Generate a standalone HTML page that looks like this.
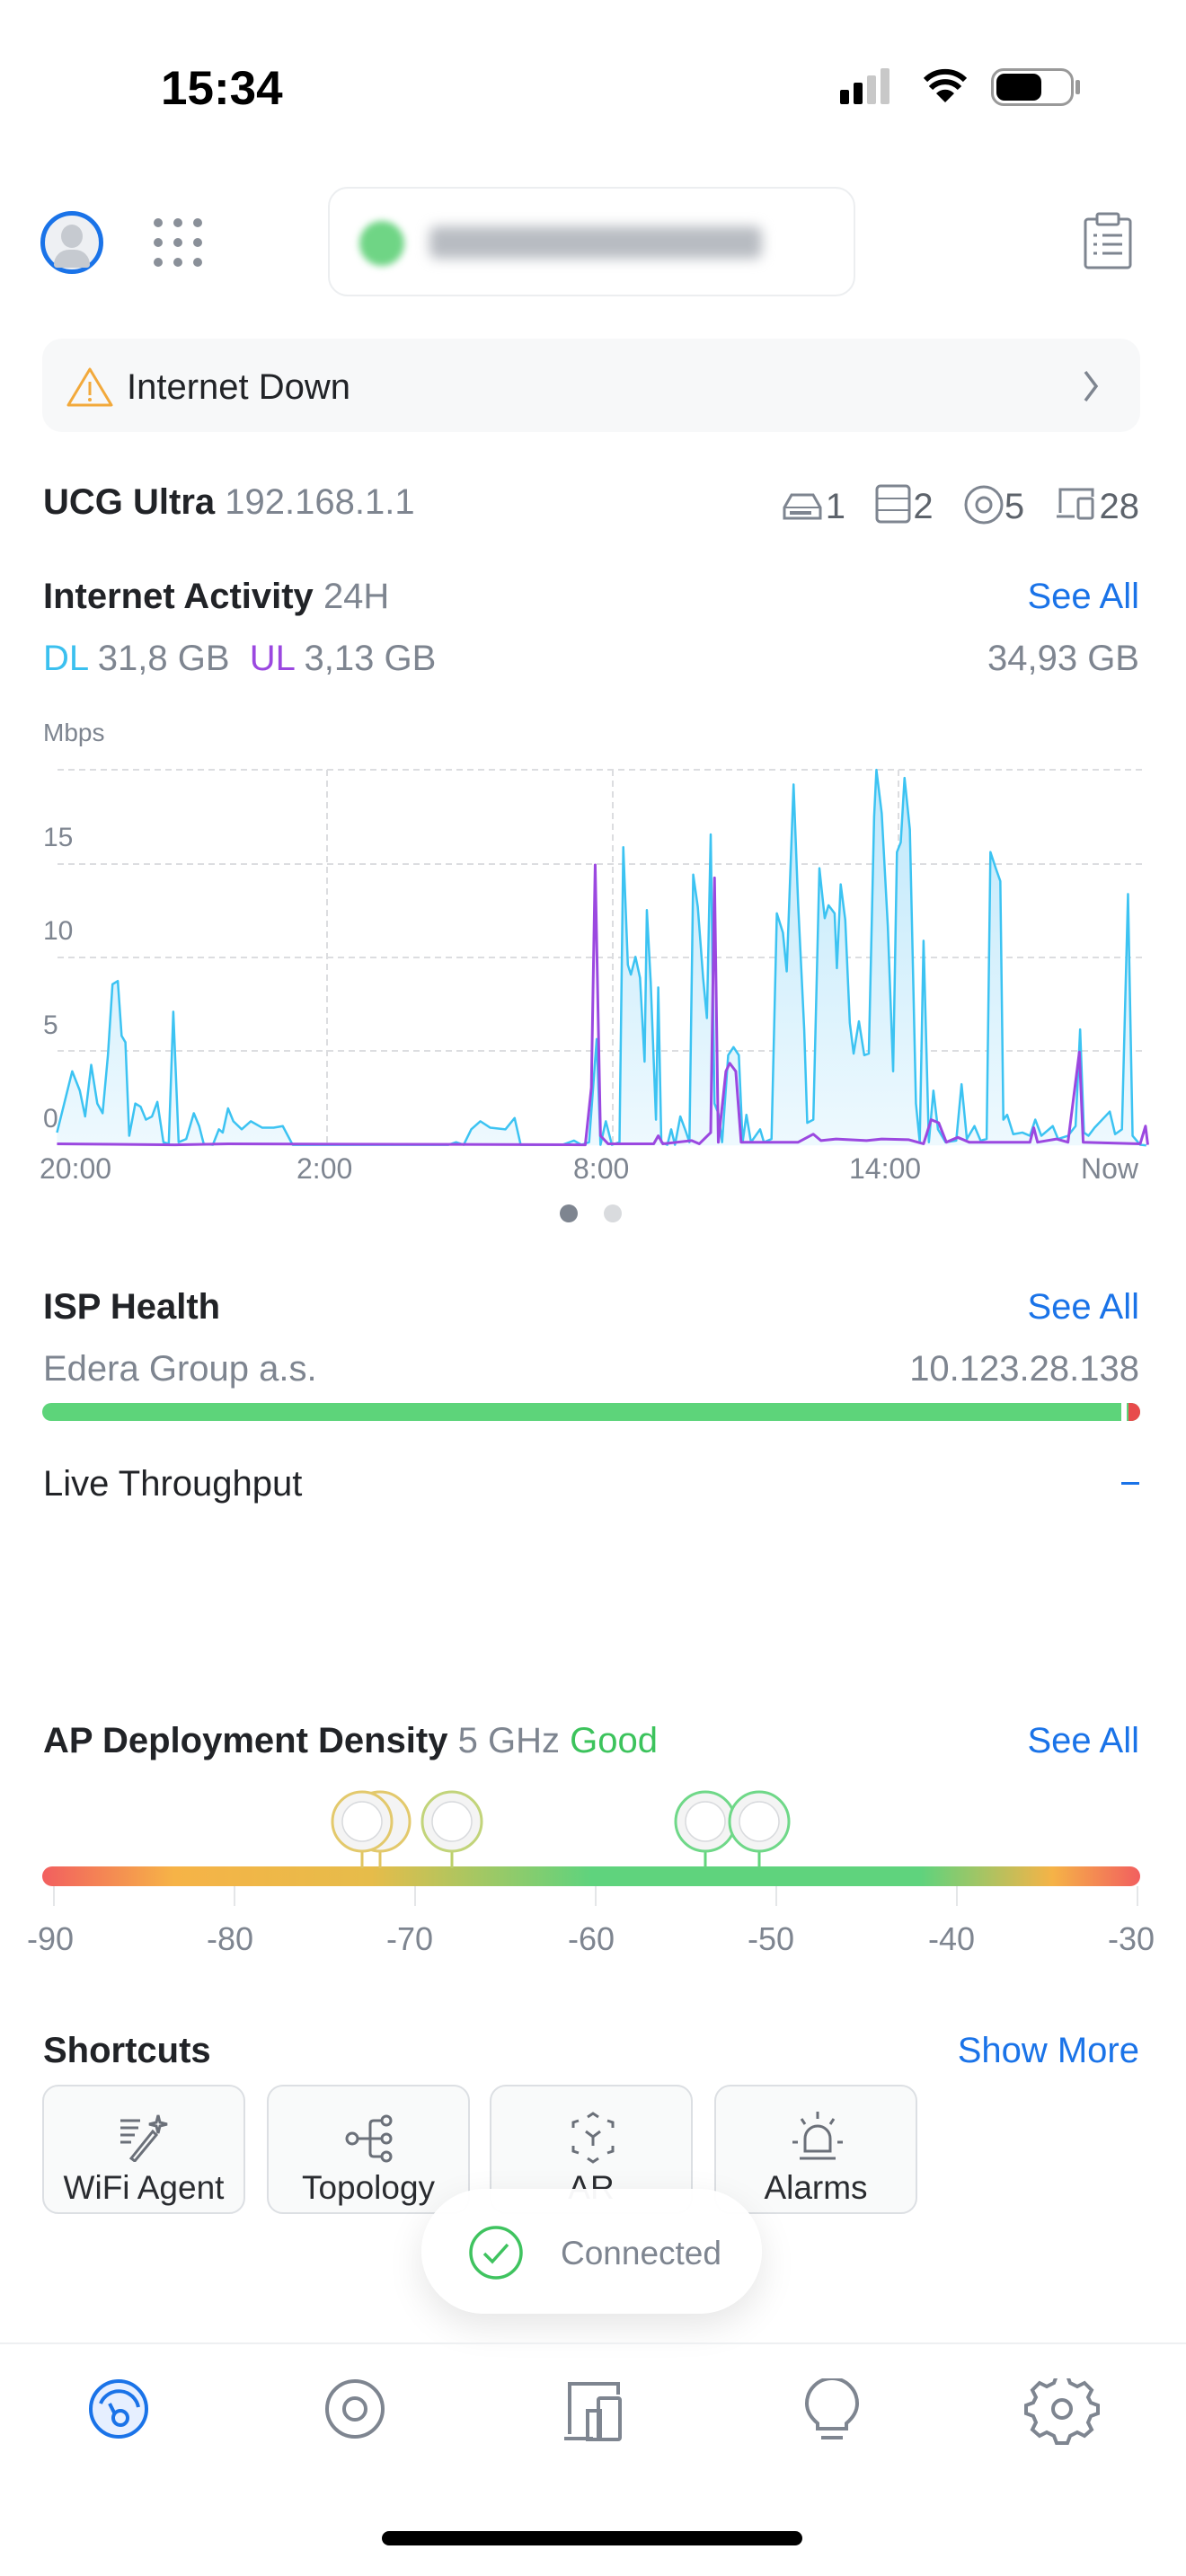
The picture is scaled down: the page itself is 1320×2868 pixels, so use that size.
<!DOCTYPE html>
<html><head><meta charset="utf-8"><style>
*{margin:0;padding:0;box-sizing:border-box}
body{width:1320px;height:2868px;background:#fff;position:relative;overflow:hidden;font-family:"Liberation Sans",sans-serif;color:#212327}
.a{position:absolute;white-space:nowrap}
.t{font-size:40px;line-height:1}
.b{font-weight:bold}
.g{color:#7e8590}
.bl{color:#1a73e8}
.sc{position:absolute;top:2321px;width:226px;height:144px;border:2px solid #dcdfe3;border-radius:18px;background:#f9fafa}
.sc span{position:absolute;bottom:6px;left:0;right:0;text-align:center;font-size:37px;color:#2a2c30}
</style></head><body>
<div class="a b" style="left:179px;top:68px;font-size:53px;color:#000">15:34</div>
<div class="a" style="left:935px;top:100px;width:10px;height:16px;background:#000;border-radius:2px"></div>
<div class="a" style="left:950px;top:92px;width:10px;height:24px;background:#000;border-radius:2px"></div>
<div class="a" style="left:965px;top:84px;width:10px;height:32px;background:#c8c8c8;border-radius:2px"></div>
<div class="a" style="left:980px;top:76px;width:10px;height:40px;background:#c8c8c8;border-radius:2px"></div>
<svg class="a" style="left:1028px;top:76px" width="48" height="40" viewBox="0 0 48 40"><path d="M24 38 L14 28 A14 14 0 0 1 34 28 Z" fill="#000"/><path d="M8 22 A22 22 0 0 1 40 22" stroke="#000" stroke-width="6" fill="none"/><path d="M2 13 A31 31 0 0 1 46 13" stroke="#000" stroke-width="6" fill="none"/></svg>
<div class="a" style="left:1103px;top:76px;width:92px;height:42px;border:3px solid #999;border-radius:14px"></div>
<div class="a" style="left:1109px;top:82px;width:50px;height:30px;background:#000;border-radius:9px"></div>
<div class="a" style="left:1197px;top:89px;width:5px;height:16px;background:#999;border-radius:2px"></div>
<div class="a" style="left:45px;top:235px;width:70px;height:70px;border:5px solid #1a73e8;border-radius:50%;background:#eef0f3"></div>
<div class="a" style="left:68px;top:250px;width:24px;height:26px;background:#c6cad0;border-radius:50%"></div>
<div class="a" style="left:60px;top:278px;width:40px;height:20px;background:#c6cad0;border-radius:20px 20px 4px 4px"></div>
<svg class="a" style="left:168px;top:240px" width="60" height="60"><g fill="#8a9099"><circle cx="8" cy="8" r="5"/><circle cx="30" cy="8" r="5"/><circle cx="52" cy="8" r="5"/><circle cx="8" cy="30" r="5"/><circle cx="30" cy="30" r="5"/><circle cx="52" cy="30" r="5"/><circle cx="8" cy="52" r="5"/><circle cx="30" cy="52" r="5"/><circle cx="52" cy="52" r="5"/></g></svg>
<div class="a" style="left:365px;top:208px;width:587px;height:122px;border:2px solid #eceef0;border-radius:22px"></div>
<div class="a" style="left:400px;top:246px;width:50px;height:50px;border-radius:50%;background:#6fd585;filter:blur(4px)"></div>
<div class="a" style="left:478px;top:252px;width:370px;height:36px;background:#b8bcc2;border-radius:8px;filter:blur(7px)"></div>
<svg class="a" style="left:1205px;top:236px" width="56" height="64"><rect x="3" y="8" width="50" height="54" rx="3" fill="none" stroke="#7e8590" stroke-width="3"/><rect x="16" y="2" width="24" height="12" rx="2" fill="#fff" stroke="#7e8590" stroke-width="3"/><g stroke="#7e8590" stroke-width="3"><line x1="12" y1="26" x2="16" y2="26"/><line x1="22" y1="26" x2="44" y2="26"/><line x1="12" y1="36" x2="16" y2="36"/><line x1="22" y1="36" x2="44" y2="36"/><line x1="12" y1="46" x2="16" y2="46"/><line x1="22" y1="46" x2="44" y2="46"/></g></svg>
<div class="a" style="left:47px;top:377px;width:1222px;height:104px;background:#f7f8f9;border-radius:22px"></div>
<svg class="a" style="left:73px;top:408px" width="54" height="46"><path d="M27 3 L51 43 L3 43 Z" fill="none" stroke="#f2a93b" stroke-width="3" stroke-linejoin="round"/><line x1="27" y1="17" x2="27" y2="32" stroke="#f2a93b" stroke-width="3"/><circle cx="27" cy="37" r="2" fill="#f2a93b"/></svg>
<div class="a t" style="left:141px;top:411px">Internet Down</div>
<svg class="a" style="left:1202px;top:408px" width="24" height="44"><path d="M6 6 L18 22 L6 38" stroke="#7e8590" stroke-width="3.5" fill="none"/></svg>
<div class="a t" style="left:48px;top:539px"><span class="b">UCG Ultra</span> <span class="g">192.168.1.1</span></div>
<div class="a t g" style="right:52px;top:539px;color:#5d636b"><svg width="48" height="36" style="vertical-align:-4px"><path d="M10 6 H34 L42 20 V32 H2 V20 Z" fill="none" stroke="#7e8590" stroke-width="3"/><line x1="2" y1="20" x2="42" y2="20" stroke="#7e8590" stroke-width="2"/><rect x="8" y="24" width="24" height="4" fill="#7e8590"/></svg>1 &nbsp;&nbsp;<svg width="42" height="44" style="vertical-align:-6px"><rect x="2" y="2" width="36" height="40" rx="4" fill="none" stroke="#7e8590" stroke-width="3"/><line x1="2" y1="16" x2="38" y2="16" stroke="#7e8590" stroke-width="2"/><line x1="2" y1="29" x2="38" y2="29" stroke="#7e8590" stroke-width="2"/></svg>2 &nbsp;&nbsp;<svg width="46" height="46" style="vertical-align:-8px"><circle cx="23" cy="23" r="20" fill="none" stroke="#7e8590" stroke-width="3"/><circle cx="23" cy="23" r="8" fill="none" stroke="#7e8590" stroke-width="3"/></svg>5 &nbsp;&nbsp;<svg width="50" height="40" style="vertical-align:-4px"><path d="M6 30 V4 H42 V12" fill="none" stroke="#7e8590" stroke-width="3"/><path d="M2 34 H22" stroke="#7e8590" stroke-width="3"/><rect x="26" y="14" width="16" height="22" rx="2" fill="none" stroke="#7e8590" stroke-width="3"/></svg>28</div>
<div class="a t" style="left:48px;top:644px"><span class="b">Internet Activity</span> <span class="g">24H</span></div>
<div class="a t bl" style="right:52px;top:644px">See All</div>
<div class="a t g" style="left:48px;top:713px"><span style="color:#3bc0ef">DL</span> 31,8 GB &nbsp;<span style="color:#9b48e0">UL</span> 3,13 GB</div>
<div class="a t g" style="right:52px;top:713px">34,93 GB</div>
<div class="a g" style="left:48px;top:800px;font-size:28px">Mbps</div>
<div class="a g" style="left:48px;top:916px;font-size:30px">15</div>
<div class="a g" style="left:48px;top:1020px;font-size:30px">10</div>
<div class="a g" style="left:48px;top:1125px;font-size:30px">5</div>
<div class="a g" style="left:48px;top:1229px;font-size:30px">0</div>
<svg class="a" style="left:0;top:0" width="1320" height="1400">
<defs><linearGradient id="fg" x1="0" y1="0" x2="0" y2="1"><stop offset="0" stop-color="#bfe8fb"/><stop offset="1" stop-color="#eef9fe"/></linearGradient></defs>
<g stroke="#dcdde0" stroke-width="2" stroke-dasharray="7 5">
<line x1="64" y1="857" x2="1276" y2="857"/><line x1="64" y1="962" x2="1276" y2="962"/><line x1="64" y1="1066" x2="1276" y2="1066"/><line x1="64" y1="1170" x2="1276" y2="1170"/>
<line x1="364" y1="857" x2="364" y2="1275"/><line x1="682" y1="857" x2="682" y2="1275"/><line x1="1000" y1="857" x2="1000" y2="1275"/>
</g>
<g transform="translate(0,780) scale(0.846,0.3589)">
<path d="M75,1340 L95,1150 L105,1210 L112,1290 L120,1130 L128,1250 L135,1280 L142,1100 L148,880 L155,870 L160,1040 L165,1060 L170,1350 L178,1250 L185,1260 L192,1300 L200,1290 L207,1245 L215,1370 L222,1375 L228,965 L235,1370 L245,1360 L255,1280 L262,1320 L268,1375 L280,1378 L288,1330 L293,1340 L300,1265 L307,1305 L318,1330 L330,1305 L345,1325 L360,1325 L372,1320 L385,1378 L590,1378 L600,1370 L610,1378 L620,1330 L632,1305 L645,1325 L665,1330 L677,1295 L685,1378 L740,1378 L755,1365 L765,1378 L775,1370 L785,1050 L790,1378 L797,1305 L805,1378 L815,1370 L820,455 L826,820 L830,850 L836,795 L842,860 L848,1120 L851,650 L856,870 L863,1300 L866,890 L870,1370 L878,1378 L883,1330 L888,1378 L895,1290 L902,1335 L907,1370 L912,540 L918,640 L925,860 L930,985 L935,415 L940,1250 L945,1280 L950,1370 L958,1100 L965,1075 L972,1100 L977,1370 L982,1285 L988,1370 L1000,1330 L1005,1370 L1015,1360 L1022,660 L1030,720 L1035,840 L1044,260 L1050,630 L1058,1020 L1062,1310 L1070,1300 L1078,520 L1085,675 L1090,635 L1098,660 L1101,830 L1106,570 L1112,680 L1118,1000 L1123,1095 L1130,995 L1137,1100 L1143,1095 L1150,360 L1153,215 L1160,350 L1168,700 L1175,1150 L1180,470 L1185,440 L1190,240 L1197,400 L1205,1250 L1210,1370 L1215,745 L1222,1370 L1228,1210 L1234,1330 L1244,1370 L1258,1365 L1265,1190 L1272,1360 L1282,1320 L1290,1365 L1298,1360 L1303,470 L1310,520 L1316,560 L1320,1300 L1325,1285 L1333,1345 L1345,1340 L1355,1350 L1362,1300 L1370,1350 L1385,1320 L1392,1360 L1405,1350 L1415,1320 L1421,1020 L1426,1340 L1432,1350 L1440,1325 L1450,1300 L1460,1275 L1467,1345 L1476,1330 L1484,600 L1490,1350 L1500,1378 L1508,1380 L75,1380 Z" fill="url(#fg)" stroke="none"/>
<path d="M75,1340 L95,1150 L105,1210 L112,1290 L120,1130 L128,1250 L135,1280 L142,1100 L148,880 L155,870 L160,1040 L165,1060 L170,1350 L178,1250 L185,1260 L192,1300 L200,1290 L207,1245 L215,1370 L222,1375 L228,965 L235,1370 L245,1360 L255,1280 L262,1320 L268,1375 L280,1378 L288,1330 L293,1340 L300,1265 L307,1305 L318,1330 L330,1305 L345,1325 L360,1325 L372,1320 L385,1378 L590,1378 L600,1370 L610,1378 L620,1330 L632,1305 L645,1325 L665,1330 L677,1295 L685,1378 L740,1378 L755,1365 L765,1378 L775,1370 L785,1050 L790,1378 L797,1305 L805,1378 L815,1370 L820,455 L826,820 L830,850 L836,795 L842,860 L848,1120 L851,650 L856,870 L863,1300 L866,890 L870,1370 L878,1378 L883,1330 L888,1378 L895,1290 L902,1335 L907,1370 L912,540 L918,640 L925,860 L930,985 L935,415 L940,1250 L945,1280 L950,1370 L958,1100 L965,1075 L972,1100 L977,1370 L982,1285 L988,1370 L1000,1330 L1005,1370 L1015,1360 L1022,660 L1030,720 L1035,840 L1044,260 L1050,630 L1058,1020 L1062,1310 L1070,1300 L1078,520 L1085,675 L1090,635 L1098,660 L1101,830 L1106,570 L1112,680 L1118,1000 L1123,1095 L1130,995 L1137,1100 L1143,1095 L1150,360 L1153,215 L1160,350 L1168,700 L1175,1150 L1180,470 L1185,440 L1190,240 L1197,400 L1205,1250 L1210,1370 L1215,745 L1222,1370 L1228,1210 L1234,1330 L1244,1370 L1258,1365 L1265,1190 L1272,1360 L1282,1320 L1290,1365 L1298,1360 L1303,470 L1310,520 L1316,560 L1320,1300 L1325,1285 L1333,1345 L1345,1340 L1355,1350 L1362,1300 L1370,1350 L1385,1320 L1392,1360 L1405,1350 L1415,1320 L1421,1020 L1426,1340 L1432,1350 L1440,1325 L1450,1300 L1460,1275 L1467,1345 L1476,1330 L1484,600 L1490,1350 L1500,1378 L1508,1380" fill="none" stroke="#3cc3f2" stroke-width="2.5" vector-effect="non-scaling-stroke" stroke-linejoin="round"/>
<path d="M75,1375 L230,1378 L300,1375 L770,1378 L778,1200 L783,510 L790,1350 L800,1375 L860,1375 L866,1350 L872,1375 L910,1365 L920,1375 L935,1340 L940,550 L945,1370 L955,1150 L960,1125 L968,1150 L975,1370 L1050,1370 L1070,1345 L1080,1365 L1100,1360 L1140,1365 L1160,1360 L1195,1362 L1215,1375 L1225,1300 L1235,1310 L1245,1370 L1260,1355 L1275,1370 L1355,1370 L1360,1325 L1365,1370 L1390,1360 L1405,1370 L1420,1090 L1425,1370 L1500,1375 L1507,1320 L1510,1378" fill="none" stroke="#9b48e0" stroke-width="3" vector-effect="non-scaling-stroke" stroke-linejoin="round"/>
</g></svg>
<div class="a g" style="left:44px;top:1283px;font-size:32px">20:00</div>
<div class="a g" style="left:330px;top:1283px;font-size:32px">2:00</div>
<div class="a g" style="left:638px;top:1283px;font-size:32px">8:00</div>
<div class="a g" style="left:945px;top:1283px;font-size:32px">14:00</div>
<div class="a g" style="left:1203px;top:1283px;font-size:32px">Now</div>
<div class="a" style="left:623px;top:1341px;width:20px;height:20px;border-radius:50%;background:#7e8590"></div>
<div class="a" style="left:672px;top:1341px;width:20px;height:20px;border-radius:50%;background:#d9dbde"></div>
<div class="a t b" style="left:48px;top:1435px">ISP Health</div>
<div class="a t bl" style="right:52px;top:1435px">See All</div>
<div class="a t g" style="left:48px;top:1504px">Edera Group a.s.</div>
<div class="a t g" style="right:52px;top:1504px">10.123.28.138</div>
<div class="a" style="left:47px;top:1562px;width:1222px;height:20px;background:#5dd47a;border-radius:10px"></div>
<div class="a" style="left:1248px;top:1562px;width:6px;height:20px;background:#fff"></div>
<div class="a" style="left:1256px;top:1562px;width:13px;height:20px;background:#e84b4b;border-radius:0 10px 10px 0"></div>
<div class="a t" style="left:48px;top:1632px">Live Throughput</div>
<div class="a" style="left:1248px;top:1650px;width:20px;height:3px;background:#1a73e8"></div>
<div class="a t" style="left:48px;top:1918px"><span class="b">AP Deployment Density</span> <span class="g">5 GHz</span> <span style="color:#3cc35c">Good</span></div>
<div class="a t bl" style="right:52px;top:1918px">See All</div>
<div class="a" style="left:47px;top:2078px;width:1222px;height:22px;border-radius:11px;background:linear-gradient(90deg,#f25f5f 0%,#f6b347 12%,#e6bc4a 30%,#5fd37d 50%,#5fd37d 80%,#f5b347 92%,#f25f5f 100%)"></div>
<svg class="a" style="left:0;top:1990px" width="1320" height="110">
<g stroke-width="3">
<line x1="403" y1="70" x2="403" y2="90" stroke="#e0c562"/><line x1="423" y1="70" x2="423" y2="90" stroke="#e0c562"/>
<line x1="503" y1="70" x2="503" y2="90" stroke="#bcd06a"/><line x1="785" y1="70" x2="785" y2="90" stroke="#63d47c"/><line x1="845" y1="70" x2="845" y2="90" stroke="#63d47c"/>
<circle cx="423" cy="38" r="33" fill="#f4f4f4" stroke="#e3c96c"/>
<circle cx="403" cy="38" r="33" fill="#f4f4f4" stroke="#e3c96c"/>
<circle cx="503" cy="38" r="33" fill="#f4f4f4" stroke="#c2d47a"/>
<circle cx="785" cy="38" r="33" fill="#f4f4f4" stroke="#6fd888"/>
<circle cx="845" cy="38" r="33" fill="#f4f4f4" stroke="#6fd888"/>
</g>
<g fill="#fff" stroke="#d8dadd" stroke-width="1.5"><circle cx="403" cy="38" r="22"/><circle cx="503" cy="38" r="22"/><circle cx="785" cy="38" r="22"/><circle cx="845" cy="38" r="22"/></g>
</svg>
<svg class="a" style="left:0;top:2100px" width="1320" height="30"><g stroke="#e4e6e8" stroke-width="2"><line x1="60" y1="0" x2="60" y2="22"/><line x1="261" y1="0" x2="261" y2="22"/><line x1="462" y1="0" x2="462" y2="22"/><line x1="663" y1="0" x2="663" y2="22"/><line x1="864" y1="0" x2="864" y2="22"/><line x1="1065" y1="0" x2="1065" y2="22"/><line x1="1266" y1="0" x2="1266" y2="22"/></g></svg>
<div class="a g" style="left:30px;top:2138px;font-size:36px">-90</div>
<div class="a g" style="left:230px;top:2138px;font-size:36px">-80</div>
<div class="a g" style="left:430px;top:2138px;font-size:36px">-70</div>
<div class="a g" style="left:632px;top:2138px;font-size:36px">-60</div>
<div class="a g" style="left:832px;top:2138px;font-size:36px">-50</div>
<div class="a g" style="left:1033px;top:2138px;font-size:36px">-40</div>
<div class="a g" style="left:1233px;top:2138px;font-size:36px">-30</div>
<div class="a t b" style="left:48px;top:2263px">Shortcuts</div>
<div class="a t bl" style="right:52px;top:2263px">Show More</div>
<div class="sc" style="left:47px"><svg style="position:absolute;left:83px;top:28px" width="56" height="56"><g stroke="#6b7079" stroke-width="3" fill="none"><line x1="2" y1="10" x2="24" y2="10"/><line x1="2" y1="18" x2="22" y2="18"/><line x1="2" y1="26" x2="18" y2="26"/><line x1="2" y1="34" x2="14" y2="34"/><path d="M14 52 L38 22 L42 26 L18 55 Z"/><path d="M44 4 L46 12 L54 14 L46 16 L44 24 L42 16 L34 14 L42 12 Z"/></g></svg><span>WiFi Agent</span></div>
<div class="sc" style="left:297px"><svg style="position:absolute;left:85px;top:30px" width="56" height="56"><g stroke="#6b7079" stroke-width="3" fill="none"><circle cx="8" cy="28" r="6"/><circle cx="46" cy="8" r="5"/><circle cx="46" cy="28" r="5"/><circle cx="46" cy="48" r="5"/><path d="M14 28 H40 M28 28 V12 Q28 8 32 8 H40 M28 28 V44 Q28 48 32 48 H40"/></g></svg><span>Topology</span></div>
<div class="sc" style="left:545px"><svg style="position:absolute;left:85px;top:28px" width="56" height="60"><g stroke="#6b7079" stroke-width="3" fill="none"><path d="M22 6 L28 2 L34 6 M6 18 L6 12 L12 10 M50 18 L50 12 L44 10 M6 38 L6 44 L12 46 M50 38 L50 44 L44 46 M22 52 L28 56 L34 52 M20 22 L28 28 L36 22 M28 28 V38"/></g></svg><span>AR</span></div>
<div class="sc" style="left:795px"><svg style="position:absolute;left:83px;top:26px" width="60" height="60"><g stroke="#6b7079" stroke-width="3" fill="none"><path d="M16 46 V32 A14 14 0 0 1 44 32 V46 Z"/><line x1="10" y1="54" x2="50" y2="54"/><line x1="30" y1="2" x2="30" y2="10"/><line x1="12" y1="10" x2="16" y2="16"/><line x1="48" y1="10" x2="44" y2="16"/><line x1="2" y1="36" x2="8" y2="36"/><line x1="52" y1="36" x2="58" y2="36"/></g></svg><span>Alarms</span></div>
<div class="a" style="left:469px;top:2437px;width:379px;height:139px;background:rgba(255,255,255,0.96);border-radius:70px;box-shadow:0 14px 40px rgba(0,0,0,0.10)"></div>
<svg class="a" style="left:521px;top:2477px" width="62" height="62"><circle cx="31" cy="31" r="28" fill="none" stroke="#3fc35f" stroke-width="3.5"/><path d="M18 32 L27 41 L44 22" fill="none" stroke="#3fc35f" stroke-width="3.5"/></svg>
<div class="a g" style="left:624px;top:2488px;font-size:37px">Connected</div>
<div class="a" style="left:0;top:2608px;width:1320px;height:2px;background:#eef0f2"></div>
<svg class="a" style="left:0;top:2648px" width="1320" height="90">
<circle cx="132" cy="34" r="31" fill="#e6efff" stroke="#1a73e8" stroke-width="4"/>
<path d="M112 28 A22 22 0 0 1 154 32" fill="none" stroke="#1a73e8" stroke-width="4"/><line x1="122" y1="28" x2="128" y2="40" stroke="#1a73e8" stroke-width="4"/><circle cx="134" cy="44" r="8" fill="none" stroke="#1a73e8" stroke-width="4"/>
<circle cx="395" cy="34" r="31" fill="none" stroke="#7e8590" stroke-width="4"/><circle cx="395" cy="34" r="12" fill="none" stroke="#7e8590" stroke-width="4"/>
<path d="M634 62 V6 H688 V18" fill="none" stroke="#7e8590" stroke-width="4"/><path d="M628 67 H660" stroke="#7e8590" stroke-width="4"/><rect x="666" y="22" width="24" height="46" rx="2" fill="none" stroke="#7e8590" stroke-width="4"/><rect x="654" y="36" width="14" height="32" fill="none" stroke="#7e8590" stroke-width="4"/>
<path d="M910 56 V50 Q898 40 898 28 A28 28 0 0 1 954 28 Q954 40 942 50 V56 Z" fill="none" stroke="#7e8590" stroke-width="4"/><line x1="914" y1="66" x2="938" y2="66" stroke="#7e8590" stroke-width="4"/>
<circle cx="1182" cy="34" r="10" fill="none" stroke="#7e8590" stroke-width="4"/>
<path d="M1176 4 H1188 L1191 12 L1199 16 L1207 12 L1215 20 L1211 28 L1214 34 L1222 37 V46 L1214 49 L1211 56 L1215 64 L1207 71 L1199 67 L1191 71 L1188 79 H1176 L1173 71 L1165 67 L1157 71 L1149 64 L1153 56 L1150 49 L1142 46 V37 L1150 34 L1153 28 L1149 20 L1157 12 L1165 16 L1173 12 Z" transform="translate(0,-7)" fill="none" stroke="#7e8590" stroke-width="4"/>
</svg>
<div class="a" style="left:425px;top:2818px;width:468px;height:16px;background:#000;border-radius:8px"></div>
</body></html>
